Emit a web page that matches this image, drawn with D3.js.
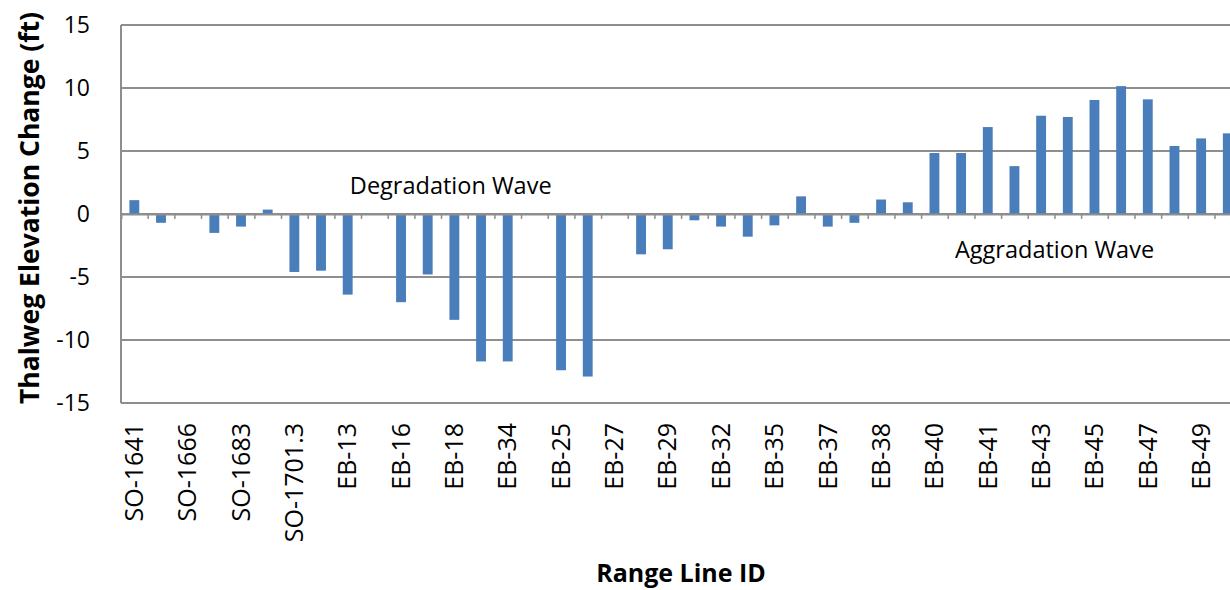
<!DOCTYPE html>
<html>
<head>
<meta charset="utf-8">
<script src="https://cdn.jsdelivr.net/npm/d3@7"></script>
<style>
  html, body { margin: 0; padding: 0; background: #fff; }
  svg { display: block; }
  text { font-family: "Open Sans", "Liberation Sans", sans-serif; fill: #000; }
</style>
</head>
<body>
<svg id="chart" width="1230" height="590"></svg>
<script>
// Tick labels shown on every other category
const tickLabels = ["SO-1641","SO-1666","SO-1683","SO-1701.3","EB-13","EB-16","EB-18","EB-34",
  "EB-25","EB-27","EB-29","EB-32","EB-35","EB-37","EB-38","EB-40","EB-41","EB-43","EB-45","EB-47","EB-49"];
// Thalweg elevation change (ft) per range line, in order along the x axis
const values = [1.1, -0.7, 0, -1.5, -1.0, 0.35, -4.6, -4.5, -6.4, 0, -7.0, -4.8, -8.4, -11.7, -11.7,
  0, -12.4, -12.9, 0, -3.2, -2.8, -0.5, -1.0, -1.8, -0.9, 1.4, -1.0, -0.7, 1.15, 0.93,
  4.84, 4.84, 6.9, 3.8, 7.8, 7.7, 9.05, 10.15, 9.1, 5.4, 6.0, 6.4];
const yTicks = [-15, -10, -5, 0, 5, 10, 15];
const annotations = [
  { text: "Degradation Wave", cat: 8.58, val: 1.6 },
  { text: "Aggradation Wave", cat: 31.27, val: -3.5 }
];

const svg = d3.select("#chart");
const plotLeft = 121, plotTop = 25, plotBottom = 403;
const step = 26.67;
const n = values.length;

const x = d3.scaleBand().domain(d3.range(n)).range([plotLeft, plotLeft + step * n]).padding(0);
const y = d3.scaleLinear().domain([-15, 15]).range([plotBottom, plotTop]);
const plotRight = plotLeft + step * n;
const gridColor = "#8e8e8e";

// gridlines
svg.append("g").selectAll("line").data(yTicks).join("line")
  .attr("x1", plotLeft).attr("x2", plotRight)
  .attr("y1", d => y(d)).attr("y2", d => y(d))
  .attr("stroke", gridColor).attr("stroke-width", 2);

// left border
svg.append("line").attr("x1", plotLeft).attr("x2", plotLeft).attr("y1", y(15)).attr("y2", y(-15))
  .attr("stroke", gridColor).attr("stroke-width", 2);

// bars
const bw = x.bandwidth() * 0.37;
svg.append("g").selectAll("rect").data(values).join("rect")
  .attr("x", (d, i) => x(i) + x.bandwidth() / 2 - bw / 2)
  .attr("width", bw)
  .attr("y", d => y(Math.max(0, d)))
  .attr("height", d => Math.abs(y(d) - y(0)))
  .attr("fill", "#4a7ebb");

// zero axis with ticks at category boundaries
const zeroAxis = d3.axisBottom(d3.scaleLinear().domain([0, n]).range([plotLeft, plotRight]))
  .tickValues(d3.range(1, n)).tickSize(5).tickFormat("");
const za = svg.append("g").attr("transform", `translate(0,${y(0)})`).call(zeroAxis);
za.select(".domain").attr("stroke", gridColor).attr("stroke-width", 2);
za.selectAll(".tick line").attr("stroke", gridColor).attr("stroke-width", 1.5);

// y axis labels
const yAxis = d3.axisLeft(y).tickValues(yTicks).tickSize(0).tickPadding(31).tickFormat(d => String(d));
const ya = svg.append("g").attr("transform", `translate(${plotLeft},0)`).call(yAxis);
ya.select(".domain").remove();
ya.selectAll("text").attr("font-size", 23).attr("font-family", "'Open Sans', sans-serif").attr("fill", "#000");

// x labels (every other category)
svg.append("g").selectAll("text").data(tickLabels).join("text")
  .attr("transform", (d, i) => `translate(${x(i * 2) + x.bandwidth() / 2},423) rotate(-90)`)
  .attr("dy", "0.35em")
  .attr("text-anchor", "end")
  .attr("font-size", 25)
  .text(d => d);

// axis titles
svg.append("text")
  .attr("transform", `translate(30,208) rotate(-90)`)
  .attr("dy", "0.35em")
  .attr("text-anchor", "middle")
  .attr("font-size", 26.5).attr("font-weight", "bold")
  .text("Thalweg Elevation Change (ft)");

svg.append("text")
  .attr("x", 681).attr("y", 582)
  .attr("text-anchor", "middle")
  .attr("font-size", 25).attr("font-weight", "bold")
  .text("Range Line ID");

// annotations
svg.append("g").selectAll("text").data(annotations).join("text")
  .attr("x", d => x(Math.floor(d.cat)) + (d.cat % 1) * step)
  .attr("y", d => y(d.val))
  .attr("font-size", 23.5)
  .text(d => d.text);
</script>
</body>
</html>
